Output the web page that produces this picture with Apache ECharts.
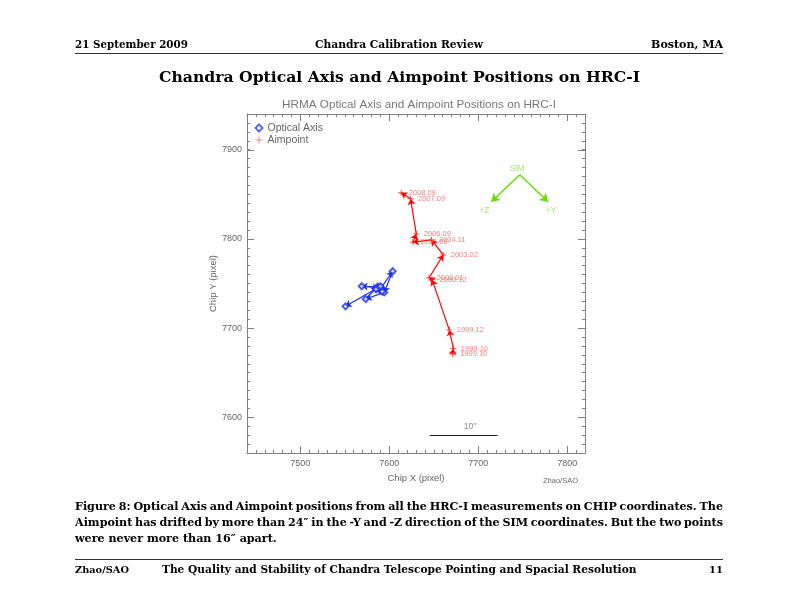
<!DOCTYPE html>
<html>
<head>
<meta charset="utf-8">
<title>Chandra Optical Axis and Aimpoint Positions on HRC-I</title>
<script src="https://cdn.jsdelivr.net/npm/echarts@6/dist/echarts.min.js"></script>
<style>
  html, body { margin: 0; padding: 0; background: #fff; }
  #main { width: 792px; height: 612px; }
</style>
</head>
<body>
<div id="main"></div>
<script>
// aimpoint positions (chip pixels), in time order
var aimDates = ['1999.10', '1999.10', '1999.12', '2000.12', '2002.01', '2003.02',
                '2004.11', '2005.09', '2006.09', '2007.09', '2008.09'];
var aimX = [7671.2, 7672.0, 7667.4, 7648.1, 7644.7, 7660.6, 7647.4, 7626.5, 7630.3, 7623.9, 7613.3];
var aimY = [7670.8, 7677.2, 7698.0, 7754.3, 7756.5, 7782.0, 7798.9, 7796.3, 7805.6, 7845.0, 7851.7];

// optical axis positions
var optX = [7590.5, 7603.8, 7594.3, 7573.5, 7586.7, 7569.0, 7588.0, 7592.0, 7585.0, 7590.0, 7550.8];
var optY = [7744.9, 7763.7, 7740.0, 7732.6, 7746.4, 7746.9, 7745.0, 7741.0, 7743.5, 7747.0, 7724.4];

// axis ranges / ticks
var xRange = [7440, 7820];
var yRange = [7560, 7940];
var xMajor = [7500, 7600, 7700, 7800];
var yMajor = [7600, 7700, 7800, 7900];

// SIM direction sketch and 10" scale bar (data coords)
var simApex = [7746.6, 7871.9];
var simEnds = [[7714.8, 7841.6], [7778.4, 7841.6]];
var simText = [[7743.5, 7879, 'SIM'], [7706.8, 7831.5, '+Z'], [7781.8, 7831.5, '+Y']];
var scaleBar = [[7645.5, 7579.8], [7721.6, 7579.8]];
var scaleText = [[7690.9, 7589, '10\'\'']];

var GRAY = '#808080';
var AXFONT = 'Liberation Sans';

function segs(xs, ys) {
  var out = [];
  for (var i = 1; i < xs.length; i++) {
    out.push({ coords: [[xs[i - 1], ys[i - 1]], [xs[i], ys[i]]] });
  }
  return out;
}

var chart = echarts.init(document.getElementById('main'));

function axisX(pos) {
  return {
    type: 'value', position: pos, min: xRange[0], max: xRange[1], interval: 10,
    axisLine: { lineStyle: { color: GRAY, width: 1 } },
    axisTick: { inside: true, length: 3, lineStyle: { color: GRAY } },
    axisLabel: {
      show: pos === 'bottom', color: '#666', fontSize: 9, fontFamily: AXFONT, margin: 6,
      formatter: function (v) { return v % 100 === 0 ? String(v) : ''; }
    },
    splitLine: { show: false },
    name: pos === 'bottom' ? 'Chip X (pixel)' : '',
    nameLocation: 'middle', nameGap: 17,
    nameTextStyle: { color: '#666', fontSize: 9.5, fontFamily: AXFONT }
  };
}
function axisY(pos) {
  return {
    type: 'value', position: pos, min: yRange[0], max: yRange[1], interval: 10,
    axisLine: { lineStyle: { color: GRAY, width: 1 } },
    axisTick: { inside: true, length: 3, lineStyle: { color: GRAY } },
    axisLabel: {
      show: pos === 'left', color: '#666', fontSize: 9, fontFamily: AXFONT, margin: 5,
      formatter: function (v) { return v % 100 === 0 ? String(v) : ''; }
    },
    splitLine: { show: false },
    name: pos === 'left' ? 'Chip Y (pixel)' : '',
    nameLocation: 'middle', nameGap: 29, nameRotate: 90,
    nameTextStyle: { color: '#666', fontSize: 9.5, fontFamily: AXFONT }
  };
}

var PLUS = 'path://M5,0L5,10M0,5L10,5';

var option = {
  animation: false,
  backgroundColor: '#fff',
  grid: { left: 247, top: 114, right: 207, bottom: 159, containLabel: false },
  xAxis: [axisX('bottom'), axisX('top')],
  yAxis: [axisY('left'), axisY('right')],
  legend: {
    orient: 'vertical', left: 253, top: 122, padding: 0, itemGap: 0,
    itemWidth: 7, itemHeight: 7,
    textStyle: { color: '#666', fontSize: 10.5, fontFamily: AXFONT, lineHeight: 12 },
    data: [
      { name: 'Optical Axis', icon: 'emptyDiamond',
        itemStyle: { color: '#3344ee', borderColor: '#3344ee', borderWidth: 0.8 } },
      { name: 'Aimpoint', itemStyle: { color: 'none', borderColor: '#ff4040', borderWidth: 0.8 } }
    ]
  },
  series: [
    {
      name: 'optical path', type: 'lines', coordinateSystem: 'cartesian2d',
      symbol: ['none', 'arrow'], symbolSize: 6, silent: true,
      lineStyle: { color: '#1f2fe8', width: 1.2, opacity: 1 },
      data: segs(optX, optY)
    },
    {
      name: 'Optical Axis', type: 'scatter', symbol: 'emptyDiamond', symbolSize: 6,
      itemStyle: { color: '#1f2fe8', borderColor: '#1f2fe8', borderWidth: 1 },
      data: optX.map(function (x, i) { return [x, optY[i]]; })
    },
    {
      name: 'aim path', type: 'lines', coordinateSystem: 'cartesian2d',
      symbol: ['none', 'arrow'], symbolSize: 6, silent: true,
      lineStyle: { color: '#ff0000', width: 1.2, opacity: 1 },
      data: segs(aimX, aimY)
    },
    {
      name: 'Aimpoint', type: 'scatter', symbol: PLUS, symbolSize: 6,
      itemStyle: { color: 'none', borderColor: '#ff2020', borderWidth: 1 },
      label: {
        show: true, position: 'right', distance: 2, color: '#ff5a5a',
        fontSize: 7.5, fontFamily: AXFONT,
        formatter: function (p) { return aimDates[p.dataIndex]; }
      },
      data: aimX.map(function (x, i) { return [x, aimY[i]]; })
    },
    {
      name: 'SIM', type: 'lines', coordinateSystem: 'cartesian2d',
      symbol: ['none', 'arrow'], symbolSize: 8, silent: true,
      lineStyle: { color: '#66e000', width: 1.5, opacity: 1 },
      data: simEnds.map(function (e) { return { coords: [simApex, e] }; })
    },
    {
      name: 'SIM text', type: 'scatter', symbolSize: 0, silent: true,
      label: {
        show: true, position: 'inside', color: '#8ee04a', fontSize: 8.5, fontFamily: AXFONT,
        formatter: function (p) { return p.value[2]; }
      },
      data: simText
    },
    {
      name: 'scale bar', type: 'lines', coordinateSystem: 'cartesian2d', silent: true,
      symbol: 'none', lineStyle: { color: '#222', width: 1, opacity: 1 },
      data: [{ coords: scaleBar }]
    },
    {
      name: 'scale text', type: 'scatter', symbolSize: 0, silent: true,
      label: {
        show: true, position: 'inside', color: '#666', fontSize: 8.5, fontFamily: AXFONT,
        formatter: function (p) { return p.value[2]; }
      },
      data: scaleText
    }
  ]
};

chart.setOption(option);

// page texts -------------------------------------------------------------
var graphics = [];
var ctx = document.createElement('canvas').getContext('2d');
// font size so that the text spans the given width
function fitFont(s, weight, family, width) {
  ctx.font = weight + ' 100px ' + family;
  var size = 100 * width / ctx.measureText(s).width;
  return weight + ' ' + size.toFixed(2) + 'px ' + family;
}
function txt(x, y, s, font, align, color) {
  graphics.push({
    type: 'text', x: x, y: y, silent: true,
    style: { text: s, font: font, fill: color || '#000', align: align || 'left', verticalAlign: 'middle' }
  });
}
function hline(x1, x2, y) {
  graphics.push({ type: 'line', silent: true, shape: { x1: x1, y1: y, x2: x2, y2: y },
    style: { stroke: '#000', lineWidth: 0.8 } });
}
function justified(line, y, x0, x1, font) {
  ctx.font = font;
  var words = line.split(' ');
  var total = 0;
  words.forEach(function (w) { total += ctx.measureText(w).width; });
  var gap = (x1 - x0 - total) / (words.length - 1);
  var x = x0;
  words.forEach(function (w) { txt(x, y, w, font); x += ctx.measureText(w).width + gap; });
}

var SF = '"DejaVu Serif"';
txt(75, 45, '21 September 2009', fitFont('21 September 2009', 'bold', SF, 113));
txt(399, 45, 'Chandra Calibration Review', fitFont('Chandra Calibration Review', 'bold', SF, 168), 'center');
txt(723, 45, 'Boston, MA', fitFont('Boston, MA', 'bold', SF, 72), 'right');
hline(75, 723, 53.5);
var title = 'Chandra Optical Axis and Aimpoint Positions on HRC-I';
txt(399.5, 78, title, fitFont(title, 'bold', SF, 481), 'center');
var plotTitle = 'HRMA Optical Axis and Aimpoint Positions on HRC-I';
txt(419, 105, plotTitle, fitFont(plotTitle, 'normal', '"Liberation Sans"', 274), 'center', '#777');
txt(578, 481, 'Zhao/SAO', '7.5px "Liberation Sans"', 'right', '#666');

var cap3 = 'were never more than 16\u2033 apart.';
var capFont = fitFont(cap3, 'bold', SF, 202);
justified('Figure 8: Optical Axis and Aimpoint positions from all the HRC-I measurements on CHIP coordinates. The', 507, 75, 723, capFont);
justified('Aimpoint has drifted by more than 24\u2033 in the -Y and -Z direction of the SIM coordinates. But the two points', 523, 75, 723, capFont);
txt(75, 539, cap3, capFont);

hline(75, 723, 559.5);
var foot = 'The Quality and Stability of Chandra Telescope Pointing and Spacial Resolution';
txt(75, 570, 'Zhao/SAO', fitFont('Zhao/SAO', 'bold', SF, 54));
txt(162, 570, foot, fitFont(foot, 'bold', SF, 475));
txt(723, 570, '11', fitFont('11', 'bold', SF, 14), 'right');

// major ticks (longer) placed through the axis scales
var px0 = chart.convertToPixel({ xAxisIndex: 0 }, xRange[0]);
var px1 = chart.convertToPixel({ xAxisIndex: 0 }, xRange[1]);
var py0 = chart.convertToPixel({ yAxisIndex: 0 }, yRange[0]);
var py1 = chart.convertToPixel({ yAxisIndex: 0 }, yRange[1]);
function tick(x1, y1, x2, y2) {
  graphics.push({ type: 'line', silent: true, shape: { x1: x1, y1: y1, x2: x2, y2: y2 },
    style: { stroke: GRAY, lineWidth: 1 } });
}
xMajor.forEach(function (v) {
  var p = Math.round(chart.convertToPixel({ xAxisIndex: 0 }, v)) + 0.5;
  tick(p, py0, p, py0 - 7);
  tick(p, py1, p, py1 + 7);
});
yMajor.forEach(function (v) {
  var p = Math.round(chart.convertToPixel({ yAxisIndex: 0 }, v)) + 0.5;
  tick(px0, p, px0 + 7, p);
  tick(px1, p, px1 - 7, p);
});

chart.setOption({ graphic: graphics });
</script>
</body>
</html>
